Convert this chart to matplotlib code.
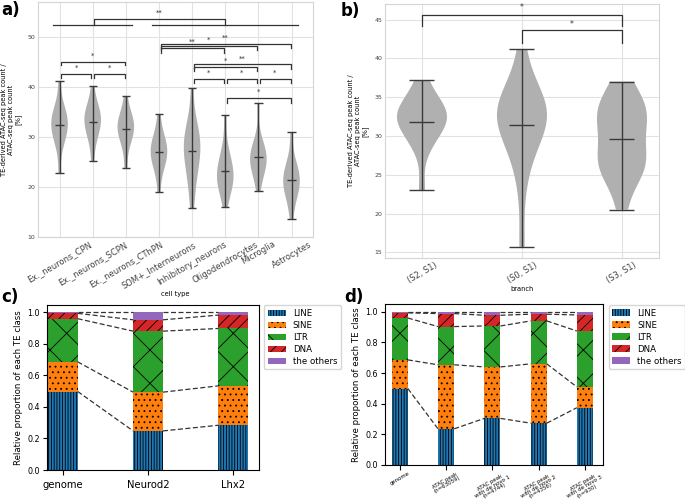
import numpy as np
import matplotlib.pyplot as plt

# ---- a) TE-derived ATAC-seq peak ratio per cell type [%]
cell_types = ['Ex._neurons_CPN', 'Ex._neurons_SCPN', 'Ex._neurons_CThPN',
              'SOM+_Interneurons', 'Inhibitory_neurons', 'Oligodendrocytes',
              'Microglia', 'Astrocytes']
cpn = [22.8, 28.0, 29.5, 30.3, 31.0, 31.6, 32.2, 32.8, 33.4, 34.0, 34.6, 35.3, 36.2, 41.2]
scpn = [25.1, 28.8, 30.3, 31.2, 32.0, 32.7, 33.3, 33.9, 34.5, 35.1, 35.8, 36.8, 40.1]
cthpn = [23.8, 28.0, 29.5, 30.3, 31.0, 31.6, 32.2, 32.8, 33.4, 34.1, 35.0, 38.1]
som = [19.0, 23.2, 24.4, 25.3, 26.0, 26.7, 27.4, 28.1, 28.8, 29.6, 30.6, 34.6]
inhib = [15.7, 19.5, 22.0, 23.6, 25.0, 26.2, 27.2, 28.0, 28.8, 29.6, 30.5, 31.6, 33.2, 39.7]
oligo = [15.9, 18.6, 19.6, 20.4, 21.0, 21.6, 22.2, 22.8, 23.5, 24.3, 25.2, 26.4, 28.2, 34.3]
microglia = [19.2, 21.8, 23.0, 23.9, 24.6, 25.1, 25.6, 26.1, 26.7, 27.4, 28.2, 29.4, 36.8]
astro = [13.5, 17.0, 18.3, 19.3, 20.0, 20.6, 21.2, 21.8, 22.5, 23.3, 24.0, 25.5, 31.0]

# ---- b) same ratio per branch [%]
branches = ['(S2, S1)', '(S0, S1)', '(S3, S1)']
s2_s1 = [23.0, 28.3, 29.6, 30.5, 31.2, 31.8, 32.2, 32.5, 32.8, 33.2, 33.7, 34.4, 35.3, 37.2]
s0_s1 = [15.7, 23.5, 27.5, 28.5, 30.0, 31.0, 31.8, 32.3, 32.7, 33.1, 33.5, 34.0, 34.6, 35.4, 37.0, 41.2]
s3_s1 = [20.5, 24.5, 25.5, 25.8, 26.4, 27.0, 27.6, 29.0, 30.8, 31.8, 32.2, 33.0, 33.6, 34.2, 35.0, 37.0]

# ---- c) / d) relative proportion of each TE class
te_classes = ['LINE', 'SINE', 'LTR', 'DNA', 'the others']
samples_c = ['genome', 'Neurod2', 'Lhx2']
line_c = [0.498, 0.248, 0.284]
sine_c = [0.188, 0.246, 0.250]
ltr_c = [0.274, 0.387, 0.364]
dna_c = [0.034, 0.072, 0.085]
other_c = [0.006, 0.047, 0.017]

samples_d = ['genome', 'ATAC peak\n(n=63059)', 'ATAC peak\nwith de novo 1\n(n=4744)',
             'ATAC peak\nwith de novo 2\n(n=4356)', 'ATAC peak\nwith de novo 3\n(n=930)']
line_d = [0.498, 0.235, 0.303, 0.272, 0.373]
sine_d = [0.188, 0.419, 0.337, 0.388, 0.136]
ltr_d = [0.274, 0.250, 0.268, 0.281, 0.366]
dna_d = [0.034, 0.085, 0.070, 0.044, 0.105]
other_d = [0.006, 0.011, 0.022, 0.015, 0.020]

plt.rcParams['hatch.linewidth'] = 0.6
ylab = 'TE-derived ATAC-seq peak count /\nATAC-seq peak count\n[%]'


def grid_style(ax):
    ax.grid(True, color='#e2e2e2', lw=0.8)
    ax.set_axisbelow(True)
    for s in ax.spines.values():
        s.set_color('#d4d4d4')
        s.set_linewidth(0.8)
    ax.tick_params(length=0, colors='#444444', pad=2)


def violins(ax, data):
    vp = ax.violinplot(data, positions=range(len(data)), widths=0.5,
                       showmeans=True, showextrema=True)
    for b in vp['bodies']:
        b.set_facecolor('#b0b0b0')
        b.set_edgecolor('none')
        b.set_alpha(1)
    for k in ['cmeans', 'cmins', 'cmaxes', 'cbars']:
        vp[k].set_color('#3a3a3a')
        vp[k].set_linewidth(1.0)


def bracket(ax, x1, x2, y, drop, text, tx, ty, fs=5):
    ax.plot([x1, x1, x2, x2], [y - drop, y, y, y - drop], color='#333333', lw=0.9)
    ax.text(tx, ty, text, ha='center', va='center', fontsize=fs, color='#333333')


def stacked(ax, labels, parts, w=0.35):
    colors = ['tab:blue', 'tab:orange', 'tab:green', 'tab:red', 'tab:purple']
    hatches = ['||||||', '...', 'x', '///', None]
    x = np.arange(len(labels))
    bottom = np.zeros(len(labels))
    tops = []
    for name, vals, col, h in zip(te_classes, parts, colors, hatches):
        ax.bar(x, vals, w, bottom=bottom, color=col, hatch=h, label=name)
        bottom = bottom + np.array(vals)
        tops.append(bottom.copy())
    for t in tops:
        for i in range(len(x) - 1):
            ax.plot([x[i] + w / 2, x[i + 1] - w / 2], [t[i], t[i + 1]], '--',
                    color='#333333', lw=0.9, dashes=(4, 2))
    ax.set_xticks(x)
    ax.set_ylim(0, 1.05)
    ax.set_ylabel('Relative proportion of each TE class', fontsize=6.2, labelpad=3)
    ax.tick_params(axis='y', labelsize=5.8, length=3, pad=2)
    ax.legend(loc='upper left', bbox_to_anchor=(1.025, 0.995), borderaxespad=0,
              fontsize=6.2, labelspacing=0.35, handlelength=2.1, handleheight=0.75,
              handletextpad=0.8, borderpad=0.4)


fig = plt.figure(figsize=(6.85, 5.03), dpi=100)

# ---- a)
ax1 = fig.add_axes([0.0555, 0.529, 0.4015, 0.467])
grid_style(ax1)
violins(ax1, [cpn, scpn, cthpn, som, inhib, oligo, microglia, astro])
bracket(ax1, 0.05, 0.96, 42.5, 0.8, '*', 0.5, 43.8)
bracket(ax1, 1.05, 1.97, 42.5, 0.8, '*', 1.5, 43.8)
bracket(ax1, 0.05, 1.97, 44.9, 0.6, '*', 1.0, 46.2)
bracket(ax1, 3.05, 4.97, 47.7, 0.85, '**', 4.0, 49.1)
bracket(ax1, 3.05, 5.97, 48.2, 0.85, '*', 4.5, 49.5)
bracket(ax1, 3.05, 6.97, 48.6, 0.85, '**', 5.0, 49.9)
bracket(ax1, 4.05, 4.97, 41.55, 0.85, '*', 4.5, 42.9)
bracket(ax1, 5.05, 5.97, 41.55, 0.85, '*', 5.5, 42.9)
bracket(ax1, 6.05, 6.97, 41.55, 0.85, '*', 6.5, 42.9)
bracket(ax1, 4.05, 5.97, 43.9, 0.7, '*', 5.0, 45.2)
bracket(ax1, 4.05, 6.97, 44.5, 0.9, '**', 5.5, 45.7)
bracket(ax1, 5.05, 6.97, 37.7, 0.9, '*', 6.0, 39.1)
ax1.plot([-0.2, 2.2], [52.5, 52.5], color='#333333', lw=0.9)
ax1.plot([2.8, 7.2], [52.5, 52.5], color='#333333', lw=0.9)
bracket(ax1, 1.05, 4.98, 53.6, 1.1, '**', 3.0, 54.8)
ax1.set_xlim(-0.65, 7.65)
ax1.set_ylim(10, 57)
ax1.set_yticks([10, 20, 30, 40, 50])
ax1.set_xticks(range(len(cell_types)))
ax1.set_xticklabels(cell_types, rotation=30, fontsize=6)
ax1.tick_params(axis='y', labelsize=4.5)
ax1.set_xlabel('cell type', fontsize=4.8, labelpad=1)
ax1.set_ylabel(ylab, fontsize=4.8, labelpad=4)

# ---- b)
ax2 = fig.add_axes([0.562, 0.487, 0.400, 0.505])
grid_style(ax2)
violins(ax2, [s2_s1, s0_s1, s3_s1])
bracket(ax2, 0, 2, 45.6, 1.4, '*', 1.0, 46.5, fs=5.5)
bracket(ax2, 1, 2, 43.6, 1.6, '*', 1.5, 44.4, fs=5.5)
ax2.set_xlim(-0.37, 2.37)
ax2.set_ylim(14.26, 47.0)
ax2.set_yticks([15, 20, 25, 30, 35, 40, 45])
ax2.set_xticks(range(len(branches)))
ax2.set_xticklabels(branches, rotation=30, fontsize=6)
ax2.tick_params(axis='y', labelsize=4.5)
ax2.set_xlabel('branch', fontsize=4.8, labelpad=1)
ax2.set_ylabel(ylab, fontsize=4.8, labelpad=4)

# ---- c)
ax3 = fig.add_axes([0.068, 0.0656, 0.310, 0.329])
stacked(ax3, samples_c, [line_c, sine_c, ltr_c, dna_c, other_c])
ax3.set_xlim(-0.19, 2.30)
ax3.set_xticklabels(samples_c, fontsize=7.2)

# ---- d)
ax4 = fig.add_axes([0.562, 0.0761, 0.319, 0.319])
stacked(ax4, samples_d, [line_d, sine_d, ltr_d, dna_d, other_d])
ax4.set_xlim(-0.32, 4.40)
ax4.set_xticklabels(samples_d, rotation=30, fontsize=3.9, linespacing=0.85)
ax4.tick_params(axis='x', pad=1)

fig.text(0.002, 0.998, 'a)', fontsize=12, fontweight='bold', va='top')
fig.text(0.497, 0.996, 'b)', fontsize=12, fontweight='bold', va='top')
fig.text(0.002, 0.428, 'c)', fontsize=12, fontweight='bold', va='top')
fig.text(0.503, 0.428, 'd)', fontsize=12, fontweight='bold', va='top')

fig.savefig('out.png', dpi=100)
